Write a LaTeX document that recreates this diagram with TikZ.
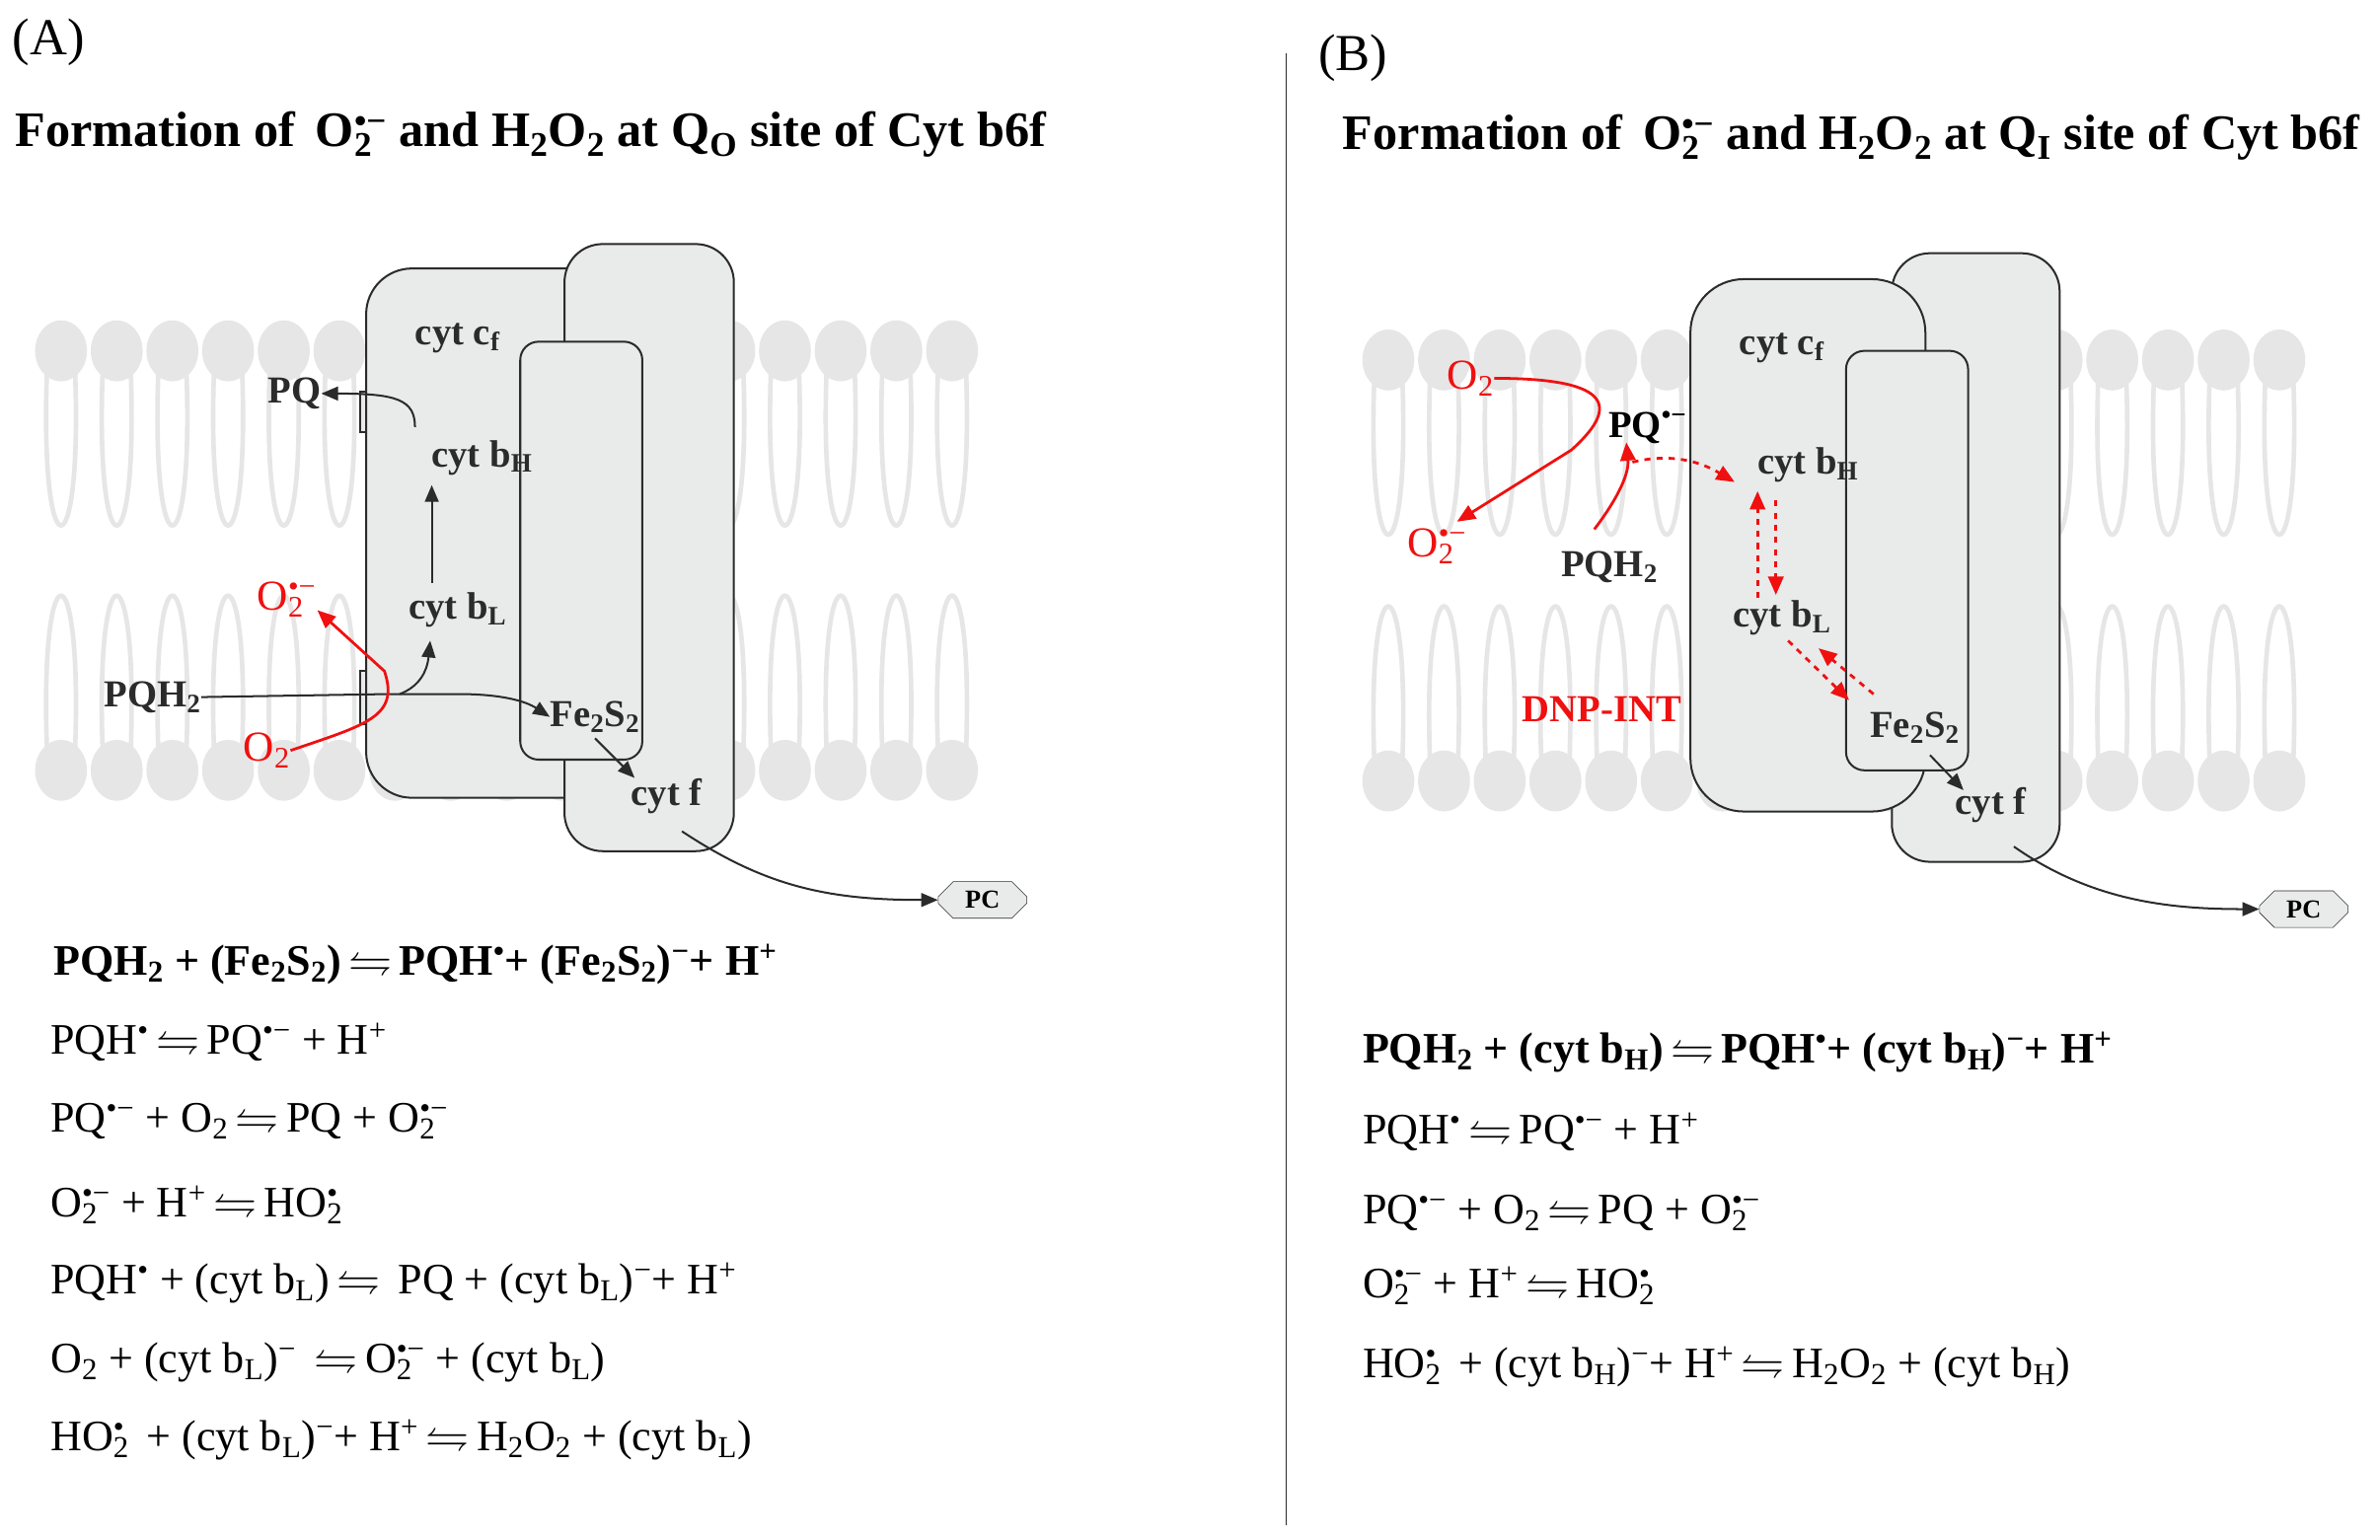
\documentclass[tikz,border=0pt]{standalone}
\usepackage{amssymb}
\usepackage{fontspec}
\setmainfont{Liberation Serif}
\usetikzlibrary{arrows.meta,shapes.misc}
\newcommand\os[2]{{\rlap{\textsubscript{#1}}\textsuperscript{#2}}}
\newcommand\dn[1]{\textsubscript{#1}}
\newcommand\up[1]{\textsuperscript{#1}}
\newcommand\eq{\,$\leftrightharpoons$\,}
\definecolor{lip}{HTML}{E6E6E6}
\definecolor{prot}{HTML}{E9EAEA}
\definecolor{edge}{HTML}{2B2B2B}
\definecolor{rd}{HTML}{F01010}
\begin{document}
\begin{tikzpicture}[x=1pt,y=-1pt,
  head/.style={fill=lip,draw=none},
  tail/.style={draw=lip,line width=3pt},
  box/.style={fill=prot,draw=edge,line width=1.3pt},
  lab/.style={font=\fontsize{25}{27}\selectfont\bfseries,text=edge,inner sep=0pt},
  rlab/.style={font=\fontsize{28}{30}\selectfont,text=rd,inner sep=0pt},
  ar/.style={-{Triangle[length=11pt,width=9pt]},line width=1.3pt,draw=edge},
  rar/.style={-{Triangle[length=12pt,width=10pt]},line width=1.8pt,draw=rd},
  rdash/.style={rar,dash pattern=on 4pt off 4pt},
  eqn/.style={font=\fontsize{28.5}{30}\selectfont,anchor=west,inner sep=0pt},
  beqn/.style={font=\fontsize{28.5}{30}\selectfont\bfseries,anchor=west,inner sep=0pt},
  ttl/.style={font=\fontsize{32.5}{34}\selectfont\bfseries,anchor=west,inner sep=0pt},
  pc/.style={chamfered rectangle,chamfered rectangle xsep=2cm,draw=edge,fill=prot,font=\fontsize{17}{18}\selectfont\bfseries,minimum width=58pt,minimum height=24pt,inner sep=1pt}]
\fill[white] (0,0) rectangle (1560,1009);
\useasboundingbox (0,0) rectangle (1560,1009);
% ---------- membranes ----------
\foreach \xo/\yt/\yb in {0/230/505, 870/236/512}{
  \foreach \i in {0,...,16}{
    \pgfmathsetmacro\xx{\xo+40+\i*36.5}
    \draw[tail] (\xx-9,\yt+8) .. controls (\xx-15,\yt+150) and (\xx+15,\yt+150) .. (\xx+9,\yt+8);
    \draw[tail] (\xx-9,\yb-8) .. controls (\xx-15,\yb-150) and (\xx+15,\yb-150) .. (\xx+9,\yb-8);
    \fill[head] (\xx,\yt) ellipse (17 and 20);
    \fill[head] (\xx,\yb) ellipse (17 and 20);
  }
}
% ---------- panel A ----------
\node[font=\fontsize{34}{36}\selectfont,anchor=west,inner sep=0pt] (tA) at (8,28) {(A)};
\node[ttl] (titA) at (10,88)
  {Formation of\, O\os{2}{•−} and H\dn{2}O\dn{2} at Q\dn{O} site of Cyt b6f};
\draw[box,rounded corners=30pt] (240,176) rectangle (400,523);
\draw[box] (240,257) rectangle (236,283);
\draw[box] (240,440) rectangle (236,475);
\draw[box,rounded corners=25pt] (370,160) rectangle (481,558);
\draw[box,rounded corners=12pt] (341,224) rectangle (421,498);
\node[lab] (cfA) at (300,222) {cyt c\dn{f}};
\node[lab] (pqA) at (193,258) {PQ};
\node[lab] (bhA) at (316,300) {cyt b\dn{H}};
\node[lab] (blA) at (300,400) {cyt b\dn{L}};
\node[lab] (pqh2A) at (100,457) {PQH\dn{2}};
\node[lab] (fesA) at (390,470) {Fe\dn{2}S\dn{2}};
\node[lab] (cytfA) at (437,522) {cyt f};
\node[rlab] (o2mA) at (188,393) {O\os{2}{•−}};
\node[rlab] (o2A) at (175,492) {O\dn{2}};
\node[pc] (pcA) at (644,590) {PC};
\coordinate (jA) at (255,455);
\draw[line width=1.3pt,draw=edge] (pqh2A.east) -- (jA);
\draw[ar] (jA) -- (300,455) .. controls (330,455) and (345,460) .. (fesA.west);
\draw[ar] (262,455) .. controls (275,450) and (280,440) .. (282,420);
\draw[ar] (283,382) -- (283,318);
\draw[ar] (272,280) .. controls (272,262) and (260,258) .. (pqA.east);
\draw[ar] (390,484) -- (416,510);
\draw[ar] (447,545) .. controls (500,580) and (540,590) .. (pcA.west);
\draw[rar] (o2A.east) .. controls (240,475) and (262,470) .. (252,440) -- (208,400);
% ---------- equations A ----------
\node[beqn] (a1) at (35,632) {PQH\dn{2} + (Fe\dn{2}S\dn{2})\eq PQH\up{•}+ (Fe\dn{2}S\dn{2})\up{−}+ H\up{+}};
\node[eqn] (a2) at (33,683) {PQH\up{•}\eq PQ\up{•−} + H\up{+}};
\node[eqn] (a3) at (33,735) {PQ\up{•−} + O\dn{2}\eq PQ + O\os{2}{•−}};
\node[eqn] (a4) at (33,790) {O\os{2}{•−} + H\up{+}\eq HO\os{2}{•}};
\node[eqn] (a5) at (33,841) {PQH\up{•} + (cyt b\dn{L})\eq\ PQ + (cyt b\dn{L})\up{−}+ H\up{+}};
\node[eqn] (a6) at (33,893) {O\dn{2} + (cyt b\dn{L})\up{−} \eq O\os{2}{•−} + (cyt b\dn{L})};
\node[eqn] (a7) at (33,944) {HO\os{2}{•} \ + (cyt b\dn{L})\up{−}+ H\up{+}\eq H\dn{2}O\dn{2} + (cyt b\dn{L})};
% divider
\coordinate (d1) at (843,35); \coordinate (d2) at (843,1000);
\draw[line width=1pt,edge] (d1) -- (d2);
% ---------- panel B ----------
\node[font=\fontsize{34}{36}\selectfont,anchor=west,inner sep=0pt] (tB) at (864,38) {(B)};
\node[ttl] (titB) at (880,90)
  {Formation of\, O\os{2}{•−} and H\dn{2}O\dn{2} at Q\dn{I} site of Cyt b6f};
\draw[box,rounded corners=25pt] (1240,166) rectangle (1350,565);
\draw[box] (1108,255) rectangle (1113,285);
\draw[box] (1108,432) rectangle (1113,468);
\draw[box,rounded corners=35pt] (1108,183) rectangle (1262,532);
\draw[box,rounded corners=12pt] (1210,230) rectangle (1290,505);
\node[lab] (cfB) at (1168,228) {cyt c\dn{f}};
\node[lab] (bhB) at (1185,305) {cyt b\dn{H}};
\node[lab] (blB) at (1168,405) {cyt b\dn{L}};
\node[lab] (fesB) at (1255,477) {Fe\dn{2}S\dn{2}};
\node[lab] (cytfB) at (1305,528) {cyt f};
\node[lab,text=black] (pqB) at (1080,280) {PQ\up{•−}};
\node[lab] (pqh2B) at (1055,372) {PQH\dn{2}};
\node[rlab] (o2B) at (964,248) {O\dn{2}};
\node[rlab] (o2mB) at (942,358) {O\os{2}{•−}};
\node[rlab,font=\fontsize{25}{27}\selectfont\bfseries] (dnp) at (1050,465) {DNP-INT};
\node[pc] (pcB) at (1510,596) {PC};
\draw[rar] (o2B.east) .. controls (1060,248) and (1060,268) .. (1030,295) -- (955,342);
\draw[rar] (1045,347) .. controls (1058,330) and (1068,312) .. (1066,290);
\draw[rdash] (1070,303) .. controls (1090,298) and (1110,300) .. (1137,316);
\draw[rdash] (1152,392) -- (1152,322);
\draw[rdash] (1164,328) -- (1164,390);
\draw[rdash] (1172,420) -- (1212,459);
\draw[rdash] (1228,455) -- (1192,425);
\draw[ar] (1265,495) -- (1287,518);
\draw[ar] (1320,555) .. controls (1370,590) and (1420,596) .. (pcB.west);
% ---------- equations B ----------
\node[beqn] (b1) at (893,690) {PQH\dn{2} + (cyt b\dn{H})\eq PQH\up{•}+ (cyt b\dn{H})\up{−}+ H\up{+}};
\node[eqn] (b2) at (893,742) {PQH\up{•}\eq PQ\up{•−} + H\up{+}};
\node[eqn] (b3) at (893,795) {PQ\up{•−} + O\dn{2}\eq PQ + O\os{2}{•−}};
\node[eqn] (b4) at (893,843) {O\os{2}{•−} + H\up{+}\eq HO\os{2}{•}};
\node[eqn] (b5) at (893,896) {HO\os{2}{•} \ + (cyt b\dn{H})\up{−}+ H\up{+}\eq H\dn{2}O\dn{2} + (cyt b\dn{H})};
\end{tikzpicture}
\end{document}
